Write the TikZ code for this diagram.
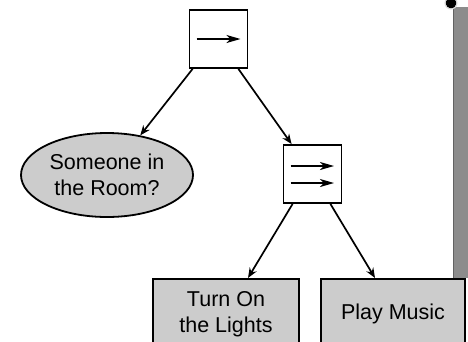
\documentclass[tikz,border=0pt]{standalone}
\usepackage{fontspec}
\setmainfont{Liberation Sans}
\usetikzlibrary{arrows.meta,shapes.geometric}
\definecolor{boxfill}{RGB}{204,204,204}
\definecolor{barfill}{RGB}{140,140,140}
\begin{document}
\begin{tikzpicture}[x=1pt,y=-1pt,
  every node/.style={font=\fontsize{21.5}{26}\selectfont},
  opbox/.style={draw,line width=1.8pt,fill=white,minimum width=58pt,minimum height=58pt,inner sep=0pt},
  leaf/.style={draw,line width=1.8pt,fill=boxfill,align=center,inner sep=0pt},
  link/.style={line width=1.7pt,-{Stealth[length=10pt,width=8pt]}},
  flow/.style={line width=1.7pt,-{Stealth[length=14pt,width=8pt,inset=4pt]}}]
  \clip (0,0) rectangle (468,341);
  \fill[white] (0,0) rectangle (468,341);

  % scroll bar strip at the right edge
  \fill[barfill] (453,7) rectangle (468,278);
  \draw[barfill!70!black,line width=0.8pt] (453.4,7) -- (453.4,278);
  \fill[black] (451,3) circle (5.5pt);
  \draw[white!70!gray,line width=1pt] (451,3) circle (6pt);

  % operator boxes
  \node[opbox] (seq) at (218.5,39) {};
  \node[opbox] (par) at (312.5,174) {};
  \draw[flow] ([xshift=-22pt]seq.center) -- ([xshift=22pt]seq.center);
  \draw[flow] ([xshift=-22pt,yshift=-9pt]par.center) -- ([xshift=21.5pt,yshift=-9pt]par.center);
  \draw[flow] ([xshift=-22pt,yshift=8pt]par.center) -- ([xshift=21.5pt,yshift=8pt]par.center);

  % condition and actions
  \node[leaf,ellipse,minimum width=172pt,minimum height=84pt] (cond) at (107,175) {Someone in\\the Room?};
  \node[leaf,anchor=north,minimum width=146pt,minimum height=70pt] (lights) at (226,278) {Turn On\\the Lights};
  \node[leaf,anchor=north,minimum width=144pt,minimum height=70pt] (music) at (393,278) {Play Music};

  % connectors
  \draw[link] ([xshift=4pt]seq.south west) -- (cond.50.5);
  \draw[link] ([xshift=-10pt]seq.south east) -- ([xshift=9pt]par.north west);
  \draw[link] ([xshift=10pt]par.south west) -- ([xshift=22pt]lights.north);
  \draw[link] ([xshift=-12pt]par.south east) -- ([xshift=-18pt]music.north);
\end{tikzpicture}
\end{document}
